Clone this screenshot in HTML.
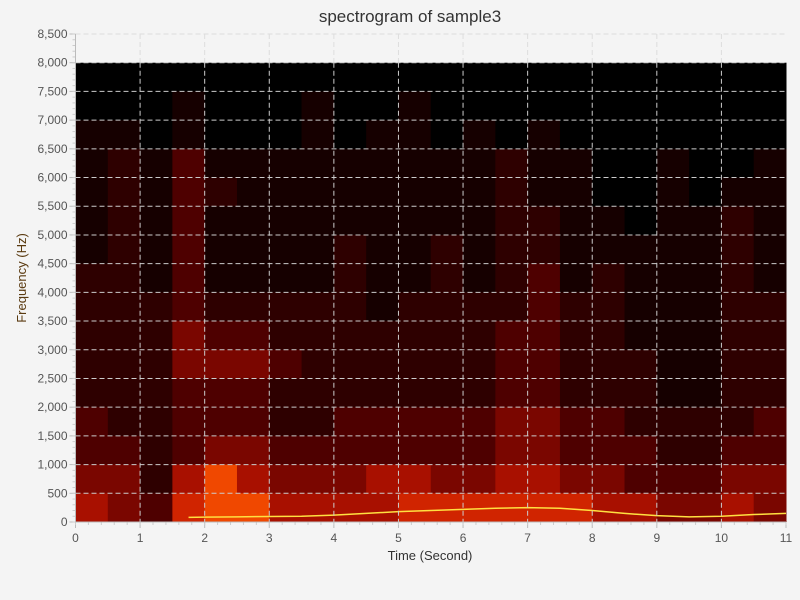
<!DOCTYPE html>
<html><head><meta charset="utf-8"><style>
body{margin:0;background:#f4f4f4;font-family:"Liberation Sans",sans-serif}
svg{display:block}
</style></head><body>
<svg id="c" width="800" height="600">
<rect width="800" height="600" fill="#f4f4f4"/>
<text x="410" y="22" text-anchor="middle" font-size="17" fill="#333">spectrogram of sample3</text>
<g id="cells"></g>
<g id="grid"></g>
<g id="axes"></g>
<text x="430" y="560" text-anchor="middle" font-size="13" fill="#333">Time (Second)</text>
<text transform="translate(26,278) rotate(-90)" text-anchor="middle" font-size="13" fill="#5a3a10">Frequency (Hz)</text>
</svg>
<script>
const timeBinWidth = 0.5;
const freqBinHeight = 500;
const intensityRows = [
"0000000000000000000000",
"0001000100100000000000",
"1101000101101010000000",
"1213111111111211001001",
"1213211111111211001011",
"1213111111111221101121",
"1213111121121221111121",
"2213111121121231211121",
"2223222221222232211122",
"2224332222222332211122",
"2224443222222332221122",
"2223332222222332221122",
"3223332233333443322223",
"3323443333333443332233",
"4425754445544554433344",
"5436775555666666554454"
];
const pitchTimes = [1.75,2,2.5,3,3.5,4,4.5,5,5.5,6,6.5,7,7.5,8,8.5,9,9.5,10,10.5,11];
const pitchHz = [80,85,90,95,100,120,150,180,200,220,240,250,240,200,150,110,90,100,130,150];
const xTicks = [0,1,2,3,4,5,6,7,8,9,10,11];
const yTicks = [0,500,1000,1500,2000,2500,3000,3500,4000,4500,5000,5500,6000,6500,7000,7500,8000,8500];
const palette = ["#000000","#160000","#2e0000","#4e0000","#7a0600","#a81000","#d02400","#f04800","#ff9000","#ffe000"];

const X0=75.5, X1=786, Y0=522, Y1=34;
const xs = t => X0 + t/11*(X1-X0);
const ys = f => Y0 - f/8500*(Y0-Y1);
const NS="http://www.w3.org/2000/svg";
function mk(tag, attrs, parent){const e=document.createElementNS(NS,tag);for(const k in attrs)e.setAttribute(k,attrs[k]);parent.appendChild(e);return e;}

const cells=document.getElementById('cells');
mk('rect',{x:X0,y:Y1,width:X1-X0,height:Y0-Y1,fill:'#f4f4f4'},cells);
const nRows=intensityRows.length;
intensityRows.forEach((row,ri)=>{
  const fTop=(nRows-ri)*freqBinHeight, fBot=fTop-freqBinHeight;
  [...row].forEach((ch,ci)=>{
    const t0=ci*timeBinWidth;
    const r=mk('rect',{x:xs(t0),y:ys(fTop),width:xs(t0+timeBinWidth)-xs(t0)+0.5,height:ys(fBot)-ys(fTop)+0.5,fill:palette[+ch]},cells);
    
    
  });
});
const pl=mk('polyline',{points:pitchTimes.map((t,i)=>xs(t)+','+ys(pitchHz[i])).join(' '),fill:'none',stroke:'#ffe040','stroke-width':1.5},cells);



const grid=document.getElementById('grid'), axes=document.getElementById('axes');
xTicks.forEach(t=>{
  if(t>0&&t<11){
    mk('line',{x1:xs(t),x2:xs(t),y1:Y1,y2:ys(8000),stroke:'#ddd','stroke-dasharray':'5,3'},grid);
    mk('line',{x1:xs(t),x2:xs(t),y1:ys(8000),y2:Y0,stroke:'#ccc','stroke-dasharray':'5,3'},grid);
  }
  mk('line',{x1:xs(t),x2:xs(t),y1:Y0,y2:Y0+6,stroke:'#bbb'},axes);
  const tx=mk('text',{x:xs(t),y:Y0+20,'text-anchor':'middle','font-size':12,fill:'#555'},axes);
  tx.textContent=t;
  
  
});
for(let t=0;t<=11.001;t+=0.2) mk('line',{x1:xs(t),x2:xs(t),y1:Y0,y2:Y0+3,stroke:'#ccc'},axes);
yTicks.forEach(f=>{
  if(f>0){
    mk('line',{x1:X0,x2:X1,y1:ys(f),y2:ys(f),stroke:f>8000?'#ddd':'#ccc','stroke-dasharray':'5,3'},grid);
  }
  mk('line',{x1:X0-6,x2:X0,y1:ys(f),y2:ys(f),stroke:'#bbb'},axes);
  const tx=mk('text',{x:X0-8,y:ys(f)+4,'text-anchor':'end','font-size':12,fill:'#555'},axes);
  tx.textContent=f.toLocaleString('en-US');
  
  
});
for(let f=0;f<=8500;f+=100) mk('line',{x1:X0-3,x2:X0,y1:ys(f),y2:ys(f),stroke:'#ccc'},axes);
mk('line',{x1:X0,x2:X0,y1:Y1,y2:Y0,stroke:'#bbb'},axes);
mk('line',{x1:X0,x2:X1,y1:Y0,y2:Y0,stroke:'#bbb'},axes);
</script>
</body></html>
